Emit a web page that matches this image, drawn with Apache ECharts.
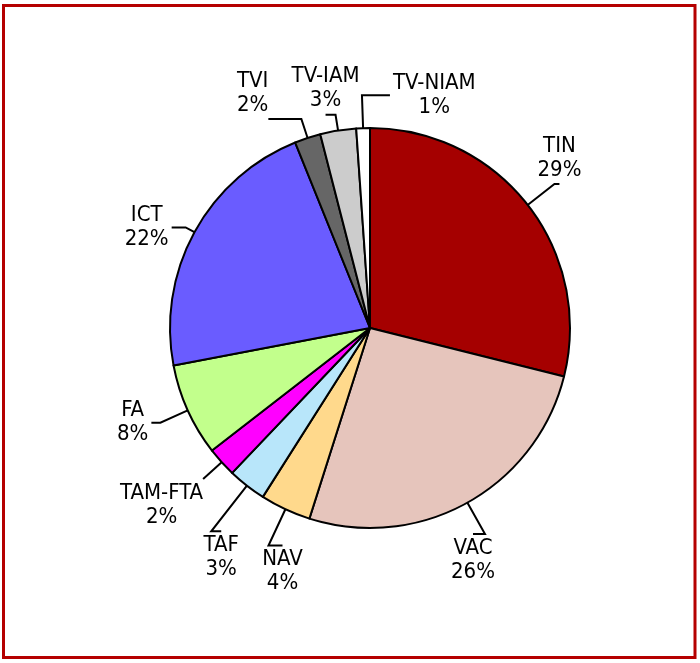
<!DOCTYPE html>
<html>
<head>
<meta charset="utf-8">
<script src="https://cdn.jsdelivr.net/npm/echarts@6/dist/echarts.min.js"></script>
<style>
  html, body { margin: 0; padding: 0; background: #fff; }
  #chart { width: 700px; height: 663px; }
</style>
</head>
<body>
<div id="chart"></div>
<script>
// slices, clockwise from 12 o'clock
const categories = ['TIN', 'VAC', 'NAV', 'TAF', 'TAM-FTA', 'FA', 'ICT', 'TVI', 'TV-IAM', 'TV-NIAM']
const shares = [28.9, 26.0, 4.1, 3.1, 2.4, 7.5, 21.9, 2.1, 2.9, 1.1]
const colors = ['#a50000', '#e6c5bc', '#ffd98c', '#b8e6fa', '#ff00ff', '#c2ff8c', '#6a5cff', '#666666', '#cccccc', '#ffffff']

// leader lines: radial part, horizontal part and its direction
const lineLen = [34, 36, 40, 58, 25, 30, 10, 20, 16, 33]
const lineLen2 = [5, 12, 14, 10, 0, 9, 14, 33, 10, 28]
const lineDir = [1, -1, 1, 1, 1, -1, -1, -1, -1, 1]
// where the text block sits against the end of its leader line
const labelAlign = ['center', 'center', 'center', 'center', 'right', 'right', 'right', 'right', 'center', 'left']
const labelVAlign = ['bottom', 'top', 'top', 'top', 'top', 'middle', 'middle', 'bottom', 'bottom', 'middle']

const FONT = "'Liberation Sans Narrow', 'DejaVu Sans Condensed', 'Liberation Sans', sans-serif"

const chart = echarts.init(document.getElementById('chart'))

const pieData = categories.map((name, i) => ({
  name: name,
  value: shares[i],
  itemStyle: { color: colors[i] },
  labelLine: { length: lineLen[i], length2: 0, lineStyle: { color: '#000', width: 2 } },
}))

chart.setOption({
  animation: false,
  graphic: [
    {
      type: 'rect',
      shape: { x: 3.5, y: 5.5, width: 691.5, height: 652 },
      style: { fill: null, stroke: '#b50000', lineWidth: 3 },
    },
  ],
  series: [
    {
      type: 'pie',
      center: [370, 328],
      radius: 200,
      startAngle: 90,
      clockwise: true,
      silent: true,
      avoidLabelOverlap: false,
      itemStyle: { borderColor: '#000', borderWidth: 2 },
      label: {
        show: true,
        position: 'outside',
        fontFamily: FONT,
        fontSize: 22,
        color: '#000',
        lineHeight: 24,
        formatter: (p) => '{a|' + p.name + '}\n{a|' + Math.round(p.value) + '%}',
        rich: {
          a: {
            fontFamily: FONT,
            fontSize: 22,
            lineHeight: 24,
            color: '#000',
            align: 'center',
          },
        },
      },
      labelLine: {
        show: true,
        lineStyle: { color: '#000', width: 2 },
      },
      labelLayout: (params) => {
        const i = params.dataIndex
        const pts = params.labelLinePoints
        if (!pts) return { hideOverlap: false }
        const p1 = pts[1]
        const p2 = [p1[0] + lineDir[i] * lineLen2[i], p1[1]]
        let x = p2[0]
        let y = p2[1]
        if (labelVAlign[i] === 'top') y += 2
        if (labelVAlign[i] === 'bottom') y -= 2
        if (labelVAlign[i] === 'middle') x += labelAlign[i] === 'left' ? 3 : -3
        return {
          x: x,
          y: y,
          align: labelAlign[i],
          verticalAlign: labelVAlign[i],
          labelLinePoints: [pts[0], p1, p2],
          hideOverlap: false,
          moveOverlap: false,
        }
      },
      data: pieData,
    },
  ],
})
</script>
</body>
</html>
